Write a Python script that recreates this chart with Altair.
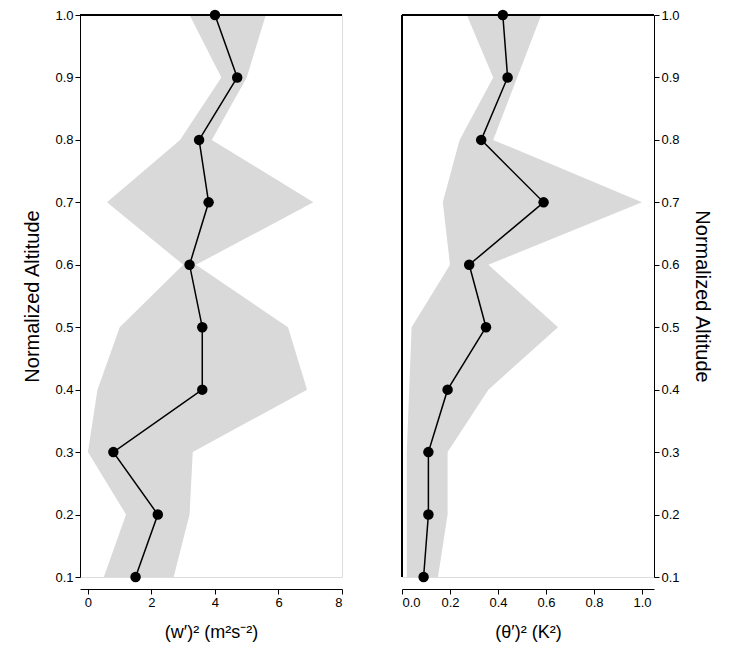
import altair as alt
import pandas as pd

alt_levels = [0.1, 0.2, 0.3, 0.4, 0.5, 0.6, 0.7, 0.8, 0.9, 1.0]

w_mean = [1.5, 2.2, 0.8, 3.6, 3.6, 3.2, 3.8, 3.5, 4.7, 4.0]
w_lo = [0.5, 1.2, 0.0, 0.3, 1.0, 3.0, 0.6, 2.9, 4.2, 3.2]
w_hi = [2.7, 3.2, 3.3, 6.9, 6.3, 3.4, 7.1, 3.9, 5.0, 5.6]

t_mean = [0.09, 0.11, 0.11, 0.19, 0.35, 0.28, 0.59, 0.33, 0.44, 0.42]
t_lo = [0.02, 0.02, 0.02, 0.03, 0.04, 0.20, 0.17, 0.24, 0.38, 0.27]
t_hi = [0.15, 0.19, 0.19, 0.36, 0.65, 0.36, 1.00, 0.38, 0.48, 0.58]

FONT = "Liberation Sans"
H = 562


def panel(mean, lo, hi, xdom, xvals, xtitle, yorient, width):
    df = pd.DataFrame({"alt": alt_levels, "m": mean, "lo": lo, "hi": hi})
    base = alt.Chart(df)
    xs = alt.Scale(domain=xdom, nice=False)
    ys = alt.Scale(domain=[0.1, 1.0], nice=False)
    xax = alt.Axis(values=xvals, offset=12, title=xtitle, format="~g" if xdom[1] > 2 else ".1f",
                   labelFontSize=13, titleFontSize=18, titleFontWeight="normal",
                   domainColor="black", tickColor="black", labelColor="black", grid=False,
                   titlePadding=14)
    yax = alt.Axis(orient=yorient, values=alt_levels, format=".1f", title="Normalized Altitude",
                   labelFontSize=13, titleFontSize=20, titleFontWeight="normal",
                   domainColor="black", tickColor="black", labelColor="black", grid=False,
                   titlePadding=12)
    band = base.mark_area(orient="horizontal", color="#d9d9d9").encode(
        y=alt.Y("alt:Q", scale=ys, axis=yax),
        x=alt.X("lo:Q", scale=xs, axis=xax),
        x2="hi:Q",
    )
    line = base.mark_line(color="black", strokeWidth=1.5).encode(
        y=alt.Y("alt:Q", scale=ys), x=alt.X("m:Q", scale=xs), order="alt:Q"
    )
    pts = base.mark_circle(color="black", size=110, opacity=1).encode(
        y=alt.Y("alt:Q", scale=ys), x=alt.X("m:Q", scale=xs)
    )
    top = base.mark_rule(color="black", strokeWidth=1).encode(
        x=alt.value(0), x2=alt.value(width), y=alt.value(0)
    )
    layers = [band, line, pts, top]
    if yorient == "right":
        left = base.mark_rule(color="black", strokeWidth=1).encode(
            x=alt.value(0), y=alt.value(0), y2=alt.value(H)
        )
        layers.append(left)
    return alt.layer(*layers).properties(width=width, height=H)


left = panel(w_mean, w_lo, w_hi, [-0.25, 8], [0, 2, 4, 6, 8],
             "(w′)²  (m²s⁻²)", "left", 262)
right = panel(t_mean, t_lo, t_hi, [0, 1.05], [0, 0.2, 0.4, 0.6, 0.8, 1.0],
              "(θ′)²  (K²)", "right", 252)

chart = alt.hconcat(left, right, spacing=58).properties(
    padding={"left": 14, "top": 0, "right": 0, "bottom": 0}
).configure_view(stroke=None).configure(font=FONT)
chart.save("out.html", embed_options={"renderer": "svg", "actions": False})
